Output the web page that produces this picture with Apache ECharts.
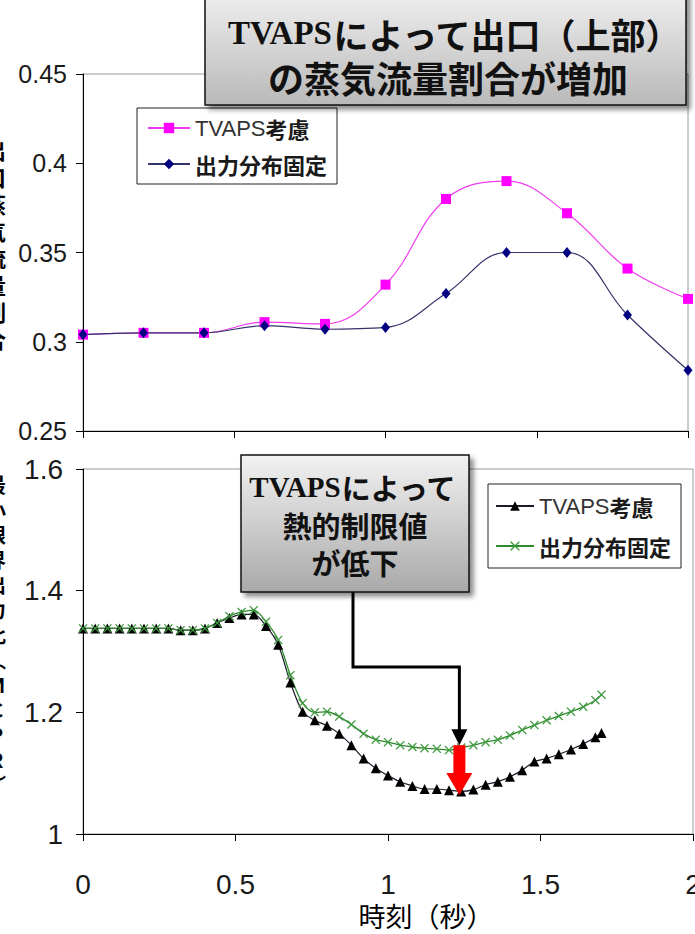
<!DOCTYPE html>
<html><head><meta charset="utf-8">
<script src="https://cdn.jsdelivr.net/npm/echarts@6/dist/echarts.min.js"></script>
<style>html,body{margin:0;padding:0;background:#fff;overflow:hidden}#c{width:695px;height:934px}</style>
</head><body><div id="c"></div>
<script>
// ---------------- data ----------------
const topTimes = [0, 0.2, 0.4, 0.6, 0.8, 1.0, 1.2, 1.4, 1.6, 1.8, 2.0];
const topTvaps = [0.304, 0.305, 0.305, 0.311, 0.310, 0.332, 0.380, 0.390, 0.372, 0.341, 0.324];
const topFixed = [0.304, 0.305, 0.305, 0.309, 0.307, 0.308, 0.327, 0.350, 0.350, 0.315, 0.284];

const botTimes = [0, 0.04, 0.08, 0.12, 0.16, 0.2, 0.24, 0.28, 0.32, 0.36, 0.4, 0.44, 0.48, 0.52, 0.56,
  0.6, 0.64, 0.68, 0.72, 0.76, 0.8, 0.84, 0.88, 0.92, 0.96, 1.0, 1.04, 1.08, 1.12, 1.16, 1.2, 1.24,
  1.28, 1.32, 1.36, 1.4, 1.44, 1.48, 1.52, 1.56, 1.6, 1.64, 1.68, 1.7];
const botTvaps = [1.338, 1.338, 1.338, 1.338, 1.338, 1.338, 1.338, 1.338, 1.335, 1.335, 1.338, 1.347, 1.355, 1.361, 1.361,
  1.342, 1.311, 1.249, 1.201, 1.187, 1.178, 1.165, 1.146, 1.124, 1.108, 1.096, 1.086, 1.079, 1.074, 1.074, 1.072, 1.070,
  1.073, 1.081, 1.086, 1.094, 1.105, 1.119, 1.124, 1.131, 1.139, 1.148, 1.159, 1.166];
const botFixed = [1.338, 1.338, 1.338, 1.338, 1.338, 1.338, 1.338, 1.338, 1.335, 1.335, 1.338, 1.347, 1.358, 1.365, 1.368,
  1.349, 1.319, 1.261, 1.215, 1.200, 1.201, 1.193, 1.180, 1.165, 1.155, 1.151, 1.146, 1.143, 1.141, 1.140, 1.138, 1.142,
  1.146, 1.151, 1.155, 1.162, 1.171, 1.179, 1.187, 1.194, 1.201, 1.209, 1.220, 1.229];

const seriesLabels = ['TVAPS考慮', '出力分布固定'];
const topTitleLines = ['TVAPSによって出口（上部）', 'の蒸気流量割合が増加'];
const botTitleLines = ['TVAPSによって', '熱的制限値', 'が低下'];
const xAxisTitle = '時刻（秒）';
const topYTitle = '出口蒸気流量割合';
const botYTitle = '最小限界出力比︵ＭＣＰＲ︶';
// annotation anchor (data units): arrow time, fixed-curve level, TVAPS-curve level
const arrowAnchor = { t: 1.234, fixedV: 1.146, tvapsV: 1.064 };

// ---------------- chart ----------------
const LATIN = '"Liberation Sans", Arial, sans-serif';
const CJK = '"Noto Sans CJK JP", "Noto Sans CJK SC", sans-serif';
const SERIF = '"Liberation Serif", "Times New Roman", serif';

const chart = echarts.init(document.getElementById('c'), null, { renderer: 'svg' });

function valAxis(gi, min, max, interval, showLabel, fs, margin) {
  return {
    type: 'value', gridIndex: gi, min: min, max: max, interval: interval,
    axisLine: { show: true, onZero: false, lineStyle: { color: '#000', width: 1 } },
    axisTick: { show: true, length: 7, lineStyle: { color: '#000', width: 1 } },
    splitLine: { show: false },
    axisLabel: { show: showLabel, fontSize: fs, color: '#1a1a1a', margin: margin, fontFamily: LATIN,
      showMinLabel: true, showMaxLabel: true, hideOverlap: false }
  };
}

const legendRich = {
  a: { fontFamily: LATIN, fontSize: 22, color: '#333' },
  b: { fontFamily: CJK, fontSize: 22, fontWeight: 'bold', color: '#1a1a1a' }
};
function legendFmt(name) {
  const idx = name.endsWith('1') ? 0 : 1;
  const lab = seriesLabels[idx];
  if (lab.startsWith('TVAPS')) return '{a|TVAPS}{b|' + lab.slice(5) + '}';
  return '{b|' + lab + '}';
}

const xMark = 'path://M0,1L1,0L5,4L9,0L10,1L6,5L10,9L9,10L5,6L1,10L0,9L4,5Z';

const option = {
  animation: false,
  backgroundColor: '#fff',
  grid: [
    { left: 83, top: 74, width: 605, height: 357, show: true, borderColor: '#9a9a9a', borderWidth: 1,
      backgroundColor: 'transparent', containLabel: false, outerBoundsMode: 'none' },
    { left: 83, top: 469, width: 610, height: 365, show: true, borderColor: '#9a9a9a', borderWidth: 1,
      backgroundColor: 'transparent', containLabel: false, outerBoundsMode: 'none' }
  ],
  xAxis: [
    valAxis(0, 0, 2, 0.5, false, 28, 36),
    valAxis(1, 0, 2, 0.5, true, 28, 36)
  ],
  yAxis: [
    valAxis(0, 0.25, 0.45, 0.05, true, 25, 16),
    valAxis(1, 1, 1.6, 0.2, true, 28, 20)
  ],
  legend: [
    {
      data: ['top1', 'top2'], orient: 'vertical', left: 137, top: 108,
      padding: [9, 10, 9, 10], itemGap: 14, itemWidth: 42, itemHeight: 13,
      backgroundColor: '#fff', borderColor: '#222', borderWidth: 1,
      formatter: legendFmt, textStyle: { fontSize: 22, rich: legendRich }, selectedMode: false
    },
    {
      data: ['bot1', 'bot2'], orient: 'vertical', left: 488, top: 484,
      padding: [11, 10, 11, 7], itemGap: 18, itemWidth: 38, itemHeight: 12,
      backgroundColor: '#fff', borderColor: '#222', borderWidth: 1,
      formatter: legendFmt, textStyle: { fontSize: 22, rich: legendRich }, selectedMode: false
    }
  ],
  series: [
    {
      name: 'top1', type: 'line', xAxisIndex: 0, yAxisIndex: 0, smooth: 0.4,
      data: topTimes.map((t, i) => [t, topTvaps[i]]),
      symbol: 'rect', symbolSize: 10, showAllSymbol: true,
      itemStyle: { color: '#ff00ff' }, lineStyle: { color: '#f03cf0', width: 1.2 }
    },
    {
      name: 'top2', type: 'line', xAxisIndex: 0, yAxisIndex: 0, smooth: 0.4,
      data: topTimes.map((t, i) => [t, topFixed[i]]),
      symbol: 'diamond', symbolSize: [9, 11], showAllSymbol: true,
      itemStyle: { color: '#000080' }, lineStyle: { color: '#34346a', width: 1.2 }
    },
    {
      name: 'bot1', type: 'line', xAxisIndex: 1, yAxisIndex: 1, smooth: 0.3,
      data: botTimes.map((t, i) => [t, botTvaps[i]]),
      symbol: 'triangle', symbolSize: [10, 10], showAllSymbol: true,
      itemStyle: { color: '#000' }, lineStyle: { color: '#1a1a2a', width: 1.2 }
    },
    {
      name: 'bot2', type: 'line', xAxisIndex: 1, yAxisIndex: 1, smooth: 0.3,
      data: botTimes.map((t, i) => [t, botFixed[i]]),
      symbol: xMark, symbolSize: 9, showAllSymbol: true,
      itemStyle: { color: '#3f9a3f' }, lineStyle: { color: '#2f8a2f', width: 1.3 }
    }
  ]
};
chart.setOption(option);

// ---------------- annotations ----------------
const pA = chart.convertToPixel({ gridIndex: 1 }, [arrowAnchor.t, arrowAnchor.fixedV]);
const pB = chart.convertToPixel({ gridIndex: 1 }, [arrowAnchor.t, arrowAnchor.tvapsV]);
const ax = pA[0], yG = pA[1], yT = pB[1];

function grad(a, b) {
  return { type: 'linear', x: 0, y: 0, x2: 0, y2: 1, colorStops: [{ offset: 0, color: a }, { offset: 1, color: b }] };
}
const boxShadow = { shadowBlur: 5, shadowOffsetX: 4, shadowOffsetY: 4, shadowColor: 'rgba(0,0,0,0.45)' };

function titleText(str, x, y, fs, sfs) {
  const t = str.startsWith('TVAPS') ? '{s|TVAPS}' + str.slice(5) : str;
  return {
    type: 'text', z: 120, x: x, y: y,
    style: {
      text: t, fontFamily: CJK, fontWeight: 'bold', fontSize: fs, fill: '#111',
      align: 'center', verticalAlign: 'middle', textAlign: 'center', textVerticalAlign: 'middle',
      rich: { s: { fontFamily: SERIF, fontWeight: 'bold', fontSize: sfs || (fs - 3), fill: '#111' } }
    }
  };
}

const graphics = [
  // top callout box
  { type: 'rect', z: 110, shape: { x: 205, y: -10, width: 481, height: 115 },
    style: Object.assign({ fill: grad('#f0f0f0', '#b9b9b9'), stroke: '#111', lineWidth: 1.5 }, boxShadow) },
  titleText(topTitleLines[0], 455, 33, 35, 33),
  titleText(topTitleLines[1], 448, 77, 36),
  // bottom callout box
  { type: 'rect', z: 110, shape: { x: 241, y: 455, width: 228, height: 137 },
    style: Object.assign({ fill: grad('#f2f2f2', '#a9a9a9'), stroke: '#111', lineWidth: 1.5 }, boxShadow) },
  titleText(botTitleLines[0], 353, 487, 29, 29),
  titleText(botTitleLines[1], 355, 525, 29),
  titleText(botTitleLines[2], 355, 562, 29),
  // connector
  { type: 'polyline', z: 105, shape: { points: [[353, 592], [353, 667], [ax, 667], [ax, yG - 14]] },
    style: { stroke: '#000', lineWidth: 3, fill: null } },
  { type: 'polygon', z: 106, shape: { points: [[ax - 8, yG - 16], [ax + 8, yG - 16], [ax, yG]] },
    style: { fill: '#000' } },
  // red arrow
  { type: 'rect', z: 106, shape: { x: ax - 6, y: yG, width: 12, height: (yT - 22) - yG + 1 },
    style: { fill: '#ff0000' } },
  { type: 'polygon', z: 106, shape: { points: [[ax - 13, yT - 22], [ax + 13, yT - 22], [ax, yT]] },
    style: { fill: '#ff0000' } },
  // x-axis title
  { type: 'text', z: 100, x: 426, y: 915,
    style: { text: xAxisTitle, fontFamily: CJK, fontSize: 27, fill: '#000', align: 'center', verticalAlign: 'middle',
      textAlign: 'center', textVerticalAlign: 'middle' } },
  // clipped vertical y titles at the left edge
  { type: 'text', z: 100, x: -16, y: 135,
    style: { text: topYTitle.split('').join('\n'), fontFamily: CJK, fontWeight: 'bold', fontSize: 22, lineHeight: 27,
      fill: '#000', align: 'left', verticalAlign: 'top', textAlign: 'left', textVerticalAlign: 'top' } },
  { type: 'text', z: 100, x: -14, y: 472,
    style: { text: botYTitle.split('').join('\n'), fontFamily: CJK, fontWeight: 'bold', fontSize: 20, lineHeight: 25,
      fill: '#000', align: 'left', verticalAlign: 'top', textAlign: 'left', textVerticalAlign: 'top' } }
];
chart.setOption({ graphic: { elements: graphics } });
</script>
</body></html>
